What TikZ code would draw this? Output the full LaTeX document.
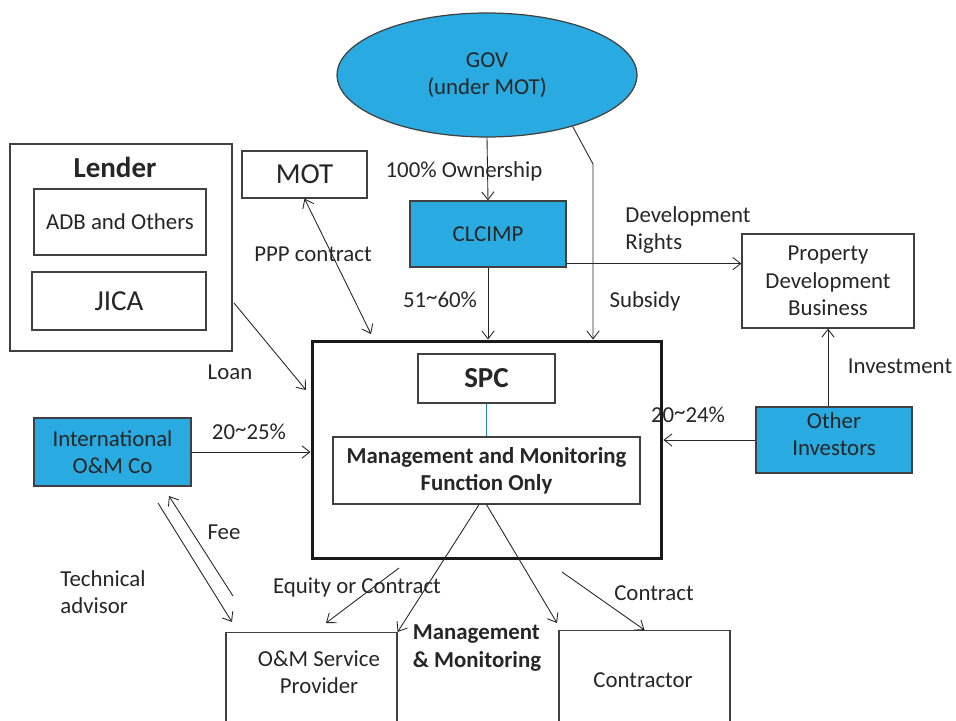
\documentclass[tikz,border=0pt]{standalone}
\usepackage{fontspec}
\setmainfont{Carlito}
\usetikzlibrary{arrows.meta,positioning,shapes.geometric}
\definecolor{orgblue}{RGB}{41,171,226}
\definecolor{ink}{RGB}{38,38,38}
\newcommand{\hitilde}{\raisebox{0.3ex}{\textasciitilde}}

\begin{document}
\begin{tikzpicture}[
        x=0.02cm,
        y=-0.02cm,
        wire/.style={line width=0.5pt, draw=ink},
        box/.style={draw=black!75, line width=0.7pt, fill=white, align=center, inner sep=2pt, text=ink, font=\fontsize{13}{15.6}\selectfont},
        bluebox/.style={box, fill=orgblue},
        txt/.style={align=center, inner sep=1pt, text=ink, font=\fontsize{13}{15.6}\selectfont},
        bigtxt/.style={txt, font=\fontsize{16.5}{19.8}\selectfont},
        >={Straight Barb[length=4.5pt,width=7pt]}
    ]
        \useasboundingbox (0,0) rectangle (956,720);
        \clip (0,0) rectangle (956,720);

        \node[ellipse, draw=black!75, line width=0.7pt, fill=orgblue, minimum width=6cm, minimum height=2.48cm, align=center, text=ink, font=\fontsize{13}{15.6}\selectfont] (gov) at (487,75) {GOV\\(under MOT)};

        \node[box, minimum width=4.44cm, minimum height=4.14cm] (lender) at (121,247.5) {};
        \node[bigtxt, font=\fontsize{16.5}{19.8}\selectfont\bfseries] (lendertitle) at (115,167) {Lender};
        \node[box, minimum width=3.44cm, minimum height=1.32cm] (adb) at (120,222) {ADB and Others};
        \node[box, minimum width=3.48cm, minimum height=1.16cm, font=\fontsize{16.5}{19.8}\selectfont] (jica) at (119,301) {JICA};

        \node[box, minimum width=2.5cm, minimum height=0.94cm, font=\fontsize{16.5}{19.8}\selectfont] (mot) at (304.5,174.5) {MOT};
        \node[bluebox, minimum width=3.12cm, minimum height=1.32cm] (clcimp) at (488,234) {CLCIMP};
        \node[box, minimum width=3.44cm, minimum height=1.88cm] (prop) at (828,281) {Property\\Development\\Business};
        \node[bluebox, minimum width=3.12cm, minimum height=1.32cm] (other) at (834,440) {};
        \node[txt] (othertxt) at (834,434) {Other\\Investors};
        \node[bluebox, minimum width=3.14cm, minimum height=1.36cm] (intl) at (112.5,452) {International\\O\&M Co};

        \node[box, draw=black!90, line width=1.7pt, minimum width=7cm, minimum height=4.36cm] (spcframe) at (487,450) {};
        \node[box, minimum width=2.74cm, minimum height=0.98cm, font=\fontsize{16.5}{19.8}\selectfont\bfseries] (spc) at (486.5,378.5) {SPC};
        \node[box, minimum width=6.14cm, minimum height=1.34cm, font=\fontsize{13}{15.6}\selectfont\bfseries] (mgmt) at (486.5,470.5) {Management and Monitoring\\Function Only};
        \draw[line width=0.6pt, draw=orgblue!80!black] (spc.south) -- (mgmt.north);

        \node[box, anchor=north, minimum width=3.42cm, minimum height=2.4cm] (omsp) at (311.5,632) {};
        \node[txt] (omsptxt) at (319,672) {O\&M Service\\Provider};
        \node[box, anchor=north, minimum width=3.42cm, minimum height=2.4cm] (contractor) at (644.5,630) {};
        \node[txt] (contractortxt) at (643,680) {Contractor};

        \coordinate (subbend) at (593,164);
        \coordinate (pppend) at (371,334);
        \coordinate (loanstart) at (234,303);
        \coordinate (loanend) at (306,390);
        \coordinate (feestart) at (233,596);
        \coordinate (feeend) at (169,496);
        \coordinate (techstart) at (158,503);
        \coordinate (techend) at (232,622);
        \coordinate (eqstart) at (399,568);
        \coordinate (eqend) at (326,623);
        \coordinate (mmend) at (557,623);
        \coordinate (cntstart) at (562,572);

        \draw[wire, ->] (gov.south) -- (clcimp.north);
        \draw[wire, ->] (gov.-31) -- (subbend) -- (subbend |- spcframe.north);
        \draw[wire, ->] (clcimp.south) -- (clcimp.south |- spcframe.north);
        \draw[wire, ->] ([yshift=0.08cm]clcimp.south east) -- ([yshift=0.08cm]clcimp.south east -| prop.west);
        \draw[wire, ->] (prop.south |- other.north) -- (prop.south);
        \draw[wire, ->] (other.west) -- (other.west -| spcframe.east);
        \draw[wire, <->] (mot.south) -- (pppend);
        \draw[wire, ->] (loanstart) -- (loanend);
        \draw[wire, ->] (intl.east) -- (intl.east -| spcframe.west);
        \draw[wire, ->] (feestart) -- (feeend);
        \draw[wire, ->] (techstart) -- (techend);
        \draw[wire, ->] (eqstart) -- (eqend);
        \draw[wire, ->] ([xshift=-0.15cm]mgmt.south) -- (omsp.north east);
        \draw[wire, ->] (mgmt.south) -- (mmend);
        \draw[wire, ->] (cntstart) -- (contractor.north);

        \node[txt] (ownlbl) at (464,171) {100\% Ownership};
        \node[txt] (subsidylbl) at (645,301) {Subsidy};
        \node[txt] (clcimplbl) at (440,300) {51\hitilde60\%};
        \node[txt, align=left] (devlbl) at (688,230) {Development\\Rights};
        \node[txt] (invlbl) at (900,366) {Investment};
        \node[txt] (otherlbl) at (688,415) {20\hitilde24\%};
        \node[txt] (ppplbl) at (313,254) {PPP contract};
        \node[txt] (loanlbl) at (230,372) {Loan};
        \node[txt] (intllbl) at (249,432) {20\hitilde25\%};
        \node[txt] (feelbl) at (224,532) {Fee};
        \node[txt, align=left] (techlbl) at (103,592) {Technical\\advisor};
        \node[txt] (eqlbl) at (357,587) {Equity or Contract};
        \node[txt, align=left, font=\fontsize{13}{15.6}\selectfont\bfseries] (mmlbl) at (477,648) {Management\\\& Monitoring};
        \node[txt] (cntlbl) at (654,593) {Contract};
    \end{tikzpicture}
\end{document}
